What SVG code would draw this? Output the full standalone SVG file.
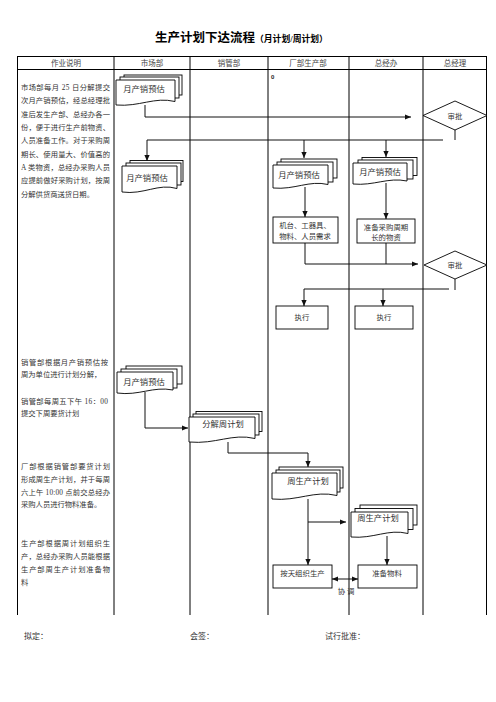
<svg xmlns="http://www.w3.org/2000/svg" width="496" height="702" viewBox="0 0 496 702">
<style>
.bg{fill:#fff}
.grid{stroke:#000;stroke-width:1;fill:none}
.hd{font-family:"Liberation Serif","Noto Sans CJK SC",serif;font-size:7.5px;fill:#444;text-anchor:middle}
.desc{font-family:"Liberation Serif","Noto Sans CJK SC",serif;font-size:7.3px;fill:#333}
.shape{fill:#fff;stroke:#000;stroke-width:0.9}
.lbl{font-family:"Liberation Serif","Noto Sans CJK SC",serif;font-size:8.3px;fill:#333;text-anchor:middle}
.sm{font-family:"Liberation Serif","Noto Sans CJK SC",serif;font-size:7.4px;fill:#333;text-anchor:middle}
.con{fill:none;stroke:#111;stroke-width:1}
.ft{font-family:"Liberation Serif","Noto Sans CJK SC",serif;font-size:8px;fill:#333}
</style>
<defs>
<marker id="arr" markerWidth="6" markerHeight="6" refX="6" refY="3" orient="auto-start-reverse" markerUnits="userSpaceOnUse"><path d="M0,0.4 L6,3 L0,5.6 Z" fill="#111"/></marker>
</defs>
<rect class="bg" x="0" y="0" width="496" height="702"/>
<g id="title">
<text x="155" y="42" font-family="'Liberation Serif','Noto Sans CJK SC',serif" font-size="12.5" font-weight="bold" fill="#000">生产计划下达流程<tspan font-size="8.8">（月计划/周计划）</tspan></text>
</g>
<g id="table">
<line class="grid" x1="17" y1="56.5" x2="487" y2="56.5"/>
<line class="grid" x1="17" y1="69.5" x2="487" y2="69.5"/>
<line class="grid" x1="17.5" y1="56" x2="17.5" y2="615"/>
<line class="grid" x1="114" y1="56" x2="114" y2="615"/>
<line class="grid" x1="190" y1="56" x2="190" y2="615"/>
<line class="grid" x1="268" y1="56" x2="268" y2="615"/>
<line class="grid" x1="349" y1="56" x2="349" y2="615"/>
<line class="grid" x1="423" y1="56" x2="423" y2="615"/>
<line class="grid" x1="486.5" y1="56" x2="486.5" y2="615"/>
<text class="hd" x="66" y="66">作业说明</text>
<text class="hd" x="152" y="66">市场部</text>
<text class="hd" x="229" y="66">销管部</text>
<text class="hd" x="308" y="66">厂部生产部</text>
<text class="hd" x="386" y="66">总经办</text>
<text class="hd" x="455" y="66">总经理</text>
<text x="271" y="79" font-family="'Liberation Sans',sans-serif" font-size="6" font-weight="bold" fill="#222">0</text>
</g>
<g id="descriptions">
<text class="desc" x="21" y="90" textLength="89" lengthAdjust="spacing">市场部每月 25 日分解提交</text>
<text class="desc" x="21" y="103" textLength="89" lengthAdjust="spacing">次月产销预估，经总经理批</text>
<text class="desc" x="21" y="116.5" textLength="89" lengthAdjust="spacing">准后发生产部、总经办各一</text>
<text class="desc" x="21" y="130" textLength="89" lengthAdjust="spacing">份，便于进行生产前物资、</text>
<text class="desc" x="21" y="143" textLength="89" lengthAdjust="spacing">人员准备工作。对于采购周</text>
<text class="desc" x="21" y="156.5" textLength="89" lengthAdjust="spacing">期长、使用量大、价值高的</text>
<text class="desc" x="21" y="170" textLength="89" lengthAdjust="spacing">A 类物资，总经办采购人员</text>
<text class="desc" x="21" y="183" textLength="89" lengthAdjust="spacing">应提前做好采购计划，按周</text>
<text class="desc" x="21" y="196.5">分解供货商送货日期。</text>
<text class="desc" x="21" y="364.5" textLength="87" lengthAdjust="spacing">销管部根据月产销预估按</text>
<text class="desc" x="21" y="376.5">周为单位进行计划分解，</text>
<text class="desc" x="21" y="403.5" textLength="87" lengthAdjust="spacing">销管部每周五下午 16：00</text>
<text class="desc" x="21" y="415.5">提交下周要货计划</text>
<text class="desc" x="21" y="468.5" textLength="89" lengthAdjust="spacing">厂部根据销管部要货计划</text>
<text class="desc" x="21" y="481.5" textLength="89" lengthAdjust="spacing">形成周生产计划，并于每周</text>
<text class="desc" x="21" y="494.5" textLength="89" lengthAdjust="spacing">六上午 10:00 点前交总经办</text>
<text class="desc" x="21" y="507">采购人员进行物料准备。</text>
<text class="desc" x="21" y="545.5" textLength="89" lengthAdjust="spacing">生产部根据周计划组织生</text>
<text class="desc" x="21" y="558.5" textLength="89" lengthAdjust="spacing">产，总经办采购人员能根据</text>
<text class="desc" x="21" y="571.5" textLength="89" lengthAdjust="spacing">生产部周生产计划准备物</text>
<text class="desc" x="21" y="584.5">料</text>
</g>
<g id="connectors">
<polyline class="con" points="145,105 145,117 411,117" marker-end="url(#arr)"/>
<line class="con" x1="455" y1="130" x2="455" y2="140"/>
<polyline class="con" points="443,140 147,140 147,161" marker-end="url(#arr)"/>
<line class="con" x1="304" y1="140" x2="304" y2="158" marker-end="url(#arr)"/>
<line class="con" x1="386" y1="140" x2="386" y2="157" marker-end="url(#arr)"/>
<line class="con" x1="305" y1="187" x2="305" y2="217" marker-end="url(#arr)"/>
<line class="con" x1="386" y1="183" x2="386" y2="219" marker-end="url(#arr)"/>
<polyline class="con" points="305,243 305,264 418,264" marker-end="url(#arr)"/>
<line class="con" x1="386" y1="243" x2="386" y2="264"/>
<line class="con" x1="455" y1="279" x2="455" y2="290"/>
<line class="con" x1="449" y1="289" x2="304" y2="289"/>
<line class="con" x1="304" y1="289" x2="304" y2="306" marker-end="url(#arr)"/>
<line class="con" x1="383" y1="289" x2="383" y2="306" marker-end="url(#arr)"/>
<polyline class="con" points="145,392 145,428 188,428" marker-end="url(#arr)"/>
<polyline class="con" points="228,442 228,453 308,453 308,467" marker-end="url(#arr)"/>
<line class="con" x1="308" y1="499" x2="308" y2="565" marker-end="url(#arr)"/>
<line class="con" x1="308" y1="522" x2="346" y2="522" marker-end="url(#arr)"/>
<line class="con" x1="387" y1="536" x2="387" y2="565" marker-end="url(#arr)" stroke="#555" stroke-width="1.3"/>
<line class="con" x1="332" y1="579" x2="358" y2="579" stroke-width="1.6" marker-start="url(#arr)" marker-end="url(#arr)"/>
<text class="sm" x="346" y="594" font-size="8">协 调</text>
</g>
<g id="n1">
<rect class="shape" x="124" y="75" width="58" height="20"/>
<rect class="shape" x="120" y="77" width="59" height="21"/>
<path class="shape" d="M116,80 H175 V101.5 C154.4,96.5 139.6,107 116,105 Z"/>
<text class="lbl" x="144" y="92">月产销预估</text>
</g>
<g id="d1">
<polygon class="shape" points="455,101 487,115.5 455,130 423,115.5"/>
<text class="sm" x="455" y="118.5">审批</text>
</g>
<g id="n2">
<rect class="shape" x="130" y="160.5" width="53" height="21"/>
<rect class="shape" x="126" y="163" width="55" height="22"/>
<path class="shape" d="M122,166 H177 V188.5 C158,183 144,195 122,192 Z"/>
<text class="lbl" x="147" y="181">月产销预估</text>
</g>
<g id="n3">
<rect class="shape" x="281" y="159" width="56" height="19"/>
<rect class="shape" x="277" y="162" width="56" height="20"/>
<path class="shape" d="M273,165 H328 V184.5 C309,180 295,190 273,188 Z"/>
<text class="lbl" x="299" y="178">月产销预估</text>
</g>
<g id="n4">
<rect class="shape" x="362" y="157.5" width="55" height="18"/>
<rect class="shape" x="358" y="160" width="55" height="19"/>
<path class="shape" d="M353,163 H407 V181 C388,177 374,186 353,184 Z"/>
<text class="lbl" x="380" y="174.5">月产销预估</text>
</g>
<g id="n5">
<rect class="shape" x="273" y="217" width="65" height="26"/>
<text class="sm" x="305" y="228">机台、工器具、</text>
<text class="sm" x="305" y="238.5">物料、人员需求</text>
</g>
<g id="n6">
<rect class="shape" x="357" y="219" width="58" height="24"/>
<text class="sm" x="386" y="230">准备采购周期</text>
<text class="sm" x="386" y="240" font-size="6.5" fill="#666">长的物资</text>
</g>
<g id="d2">
<polygon class="shape" points="455,251 487,265 455,279 424,265"/>
<text class="sm" x="455" y="268">审批</text>
</g>
<g id="n7">
<rect class="shape" x="276" y="306" width="52" height="23"/>
<text class="sm" x="302" y="320">执行</text>
</g>
<g id="n8">
<rect class="shape" x="355" y="306" width="58" height="23"/>
<text class="sm" x="384" y="320">执行</text>
</g>
<g id="n9">
<rect class="shape" x="126" y="366" width="56" height="18"/>
<rect class="shape" x="121" y="369" width="56" height="19"/>
<path class="shape" d="M117,372 H173 V390 C153,386 139,396 117,393 Z"/>
<text class="lbl" x="144" y="385">月产销预估</text>
</g>
<g id="n10">
<rect class="shape" x="196" y="411.5" width="66" height="20"/>
<rect class="shape" x="193" y="414" width="66" height="21"/>
<path class="shape" d="M189,417 H255 V438.5 C232,433 216,444.5 189,442 Z"/>
<text class="lbl" x="223" y="427">分解周计划</text>
</g>
<g id="n11">
<rect class="shape" x="279" y="467" width="64" height="21"/>
<rect class="shape" x="276" y="470" width="64" height="22"/>
<path class="shape" d="M272,473 H337 V495.5 C314,490 298,501.5 272,499 Z"/>
<text class="lbl" x="308" y="484">周生产计划</text>
</g>
<g id="n12">
<rect class="shape" x="360" y="505" width="57" height="20"/>
<rect class="shape" x="355" y="508.5" width="58" height="21"/>
<path class="shape" d="M351,512 H408 V533.5 C388,528.5 374,539 351,537 Z"/>
<text class="lbl" x="378" y="521">周生产计划</text>
</g>
<g id="n13">
<rect class="shape" x="273" y="565" width="59" height="23"/>
<text class="sm" x="302.5" y="576">按天组织生产</text>
</g>
<g id="n14">
<rect class="shape" x="358" y="565" width="59" height="23"/>
<text class="sm" x="387" y="576">准备物料</text>
</g>
<g id="footer">
<text class="ft" x="24" y="639">拟定：</text>
<text class="ft" x="190" y="639">会签：</text>
<text class="ft" x="325" y="639">试行批准：</text>
</g>
</svg>
